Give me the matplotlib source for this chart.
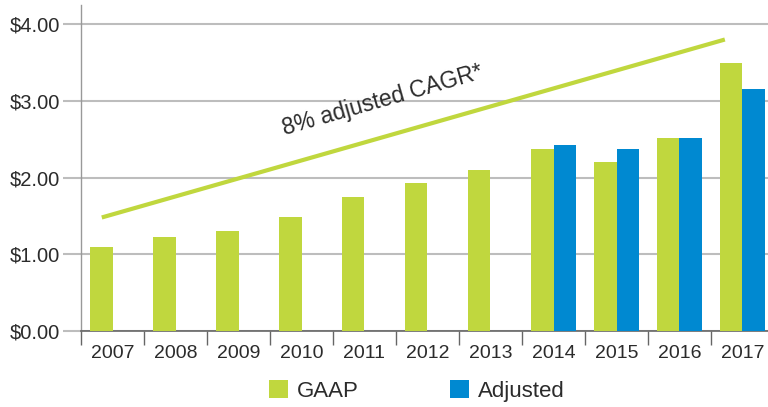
import numpy as np
import matplotlib.pyplot as plt
from matplotlib.ticker import FixedLocator

plt.rcParams['font.family'] = ['Liberation Sans', 'DejaVu Sans']

years = ['2007', '2008', '2009', '2010', '2011', '2012', '2013', '2014', '2015', '2016', '2017']
gaap = [1.10, 1.22, 1.30, 1.48, 1.75, 1.93, 2.10, 2.37, 2.20, 2.51, 3.50]
adjusted = [None, None, None, None, None, None, None, 2.42, 2.37, 2.51, 3.15]
trend_x = [-0.17, 9.72]
trend_y = [1.48, 3.80]
trend_label = '8% adjusted CAGR*'

green = '#C0D73E'
blue = '#0089D1'
grid_c = '#BDBDBD'
text_c = '#2B2B2B'

fig = plt.figure(figsize=(7.68, 4.07), dpi=100)
ax = fig.add_axes([81 / 768, 76 / 407, 687 / 768, 326 / 407])

x = np.arange(len(years))
w = 0.35
ax.bar(x - w / 2, gaap, width=w, color=green, label='GAAP', zorder=3)
adj_x = [xi for xi, v in zip(x, adjusted) if v is not None]
adj_v = [v for v in adjusted if v is not None]
ax.bar(np.array(adj_x) + w / 2, adj_v, width=w, color=blue, label='Adjusted', zorder=3)

ax.plot(trend_x, trend_y, color=green, lw=3, solid_capstyle='butt', zorder=4)
ax.text(4.29, 3.01, trend_label, rotation=16, rotation_mode='anchor',
        ha='center', va='center', fontsize=16.5, color=text_c)

ax.set_xlim(-0.5, -0.5 + 687 / 63)
ax.set_ylim(0, 4.25)

ax.set_yticks([0, 1, 2, 3, 4])
ax.set_yticklabels(['$0.00', '$1.00', '$2.00', '$3.00', '$4.00'])
ax.yaxis.grid(True, color=grid_c, lw=1.5, zorder=0)
ax.tick_params(axis='y', length=13, width=1.5, color=grid_c, pad=2,
               labelsize=14.5, labelcolor=text_c)

ax.set_xticks(x)
ax.set_xticklabels(years)
ax.xaxis.set_minor_locator(FixedLocator(np.arange(-0.5, 11, 1)))
ax.tick_params(axis='x', which='major', length=0, pad=10, labelsize=14, labelcolor=text_c)
ax.tick_params(axis='x', which='minor', length=10, width=1, color='#666666')

for s in ['top', 'right']:
    ax.spines[s].set_visible(False)
ax.spines['left'].set_color('#999999')
ax.spines['left'].set_linewidth(1)
ax.spines['bottom'].set_color('#666666')
ax.spines['bottom'].set_linewidth(1.2)

fig.legend(loc='center', bbox_to_anchor=(0.543, 0.039), ncol=2, frameon=False,
           fontsize=16, handlelength=0.85, handleheight=0.85, handletextpad=0.4,
           columnspacing=4.1, labelcolor=text_c)

fig.savefig('out.png', dpi=100)
